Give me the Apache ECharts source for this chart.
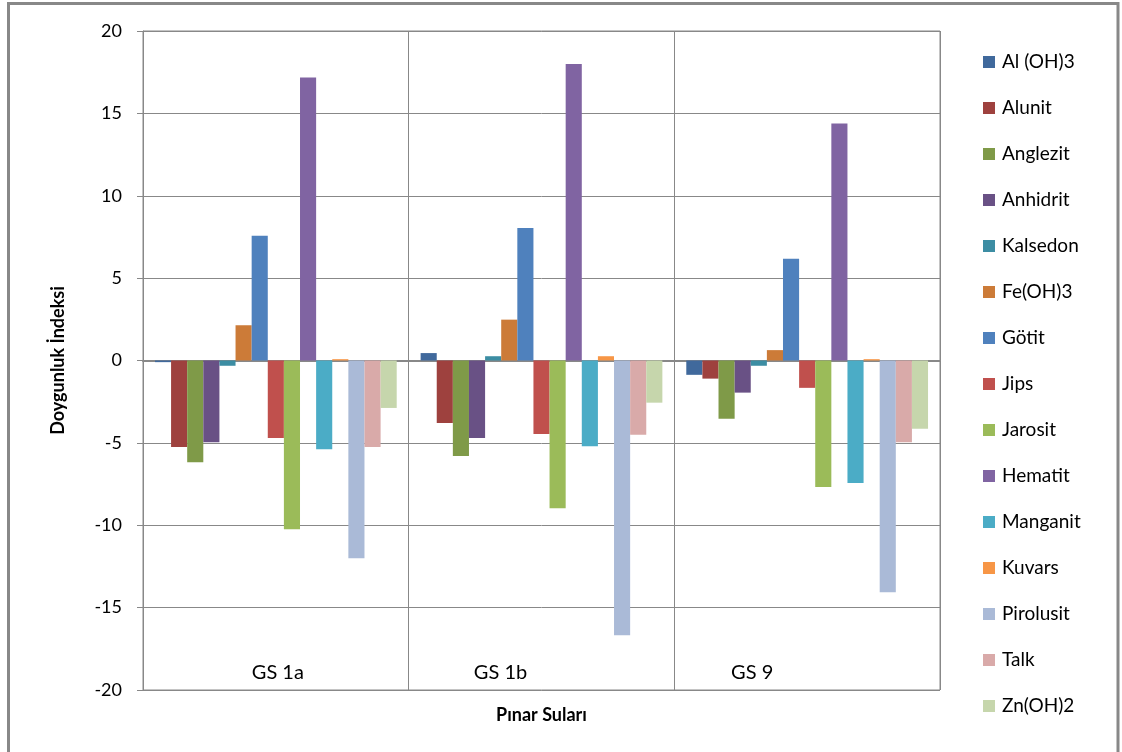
<!DOCTYPE html>
<html>
<head>
<meta charset="utf-8">
<script src="https://cdn.jsdelivr.net/npm/echarts@6/dist/echarts.min.js"></script>
<style>
html,body{margin:0;padding:0;background:#fff;}
#c{width:1122px;height:752px;}
</style>
</head>
<body>
<div id="c"></div>
<script>
const categories = ['GS 1a', 'GS 1b', 'GS 9'];
const seriesNames = ['Al (OH)3','Alunit','Anglezit','Anhidrit','Kalsedon','Fe(OH)3','Götit','Jips','Jarosit','Hematit','Manganit','Kuvars','Pirolusit','Talk','Zn(OH)2'];
const alOH3     = [-0.1, 0.45, -0.87];
const alunit    = [-5.25, -3.8, -1.1];
const anglezit  = [-6.17, -5.8, -3.54];
const anhidrit  = [-4.96, -4.7, -1.95];
const kalsedon  = [-0.32, 0.26, -0.32];
const feOH3     = [2.14, 2.48, 0.63];
const gotit     = [7.57, 8.05, 6.17];
const jips      = [-4.7, -4.46, -1.66];
const jarosit   = [-10.24, -8.97, -7.68];
const hematit   = [17.18, 18.0, 14.38];
const manganit  = [-5.38, -5.2, -7.44];
const kuvars    = [0.08, 0.26, 0.08];
const pirolusit = [-12.0, -16.68, -14.06];
const talk      = [-5.25, -4.51, -4.96];
const znOH2     = [-2.88, -2.56, -4.14];
const yTicks = [-20, -15, -10, -5, 0, 5, 10, 15, 20];

const values = [alOH3, alunit, anglezit, anhidrit, kalsedon, feOH3, gotit, jips, jarosit, hematit, manganit, kuvars, pirolusit, talk, znOH2];
const colors = ['#40699C','#9E413E','#7F9A48','#695185','#3C8DA3','#CC7B38','#4F81BD','#C0504D','#9BBB59','#8064A2','#4BACC6','#F79646','#AABAD7','#D9AAA9','#C6D6AC'];
const labelPads = [[0,0,0,4],[0,82,0,0],[0,110,0,0]];

const FONT = 'Lato, "Open Sans", sans-serif';
const chart = echarts.init(document.getElementById('c'), null, {renderer:'canvas'});
chart.setOption({
  animation: false,
  color: colors,
  textStyle: {fontFamily: FONT},
  graphic: [{
    type: 'rect', silent: true,
    shape: {x: 8.5, y: 3.5, width: 1109.5, height: 800},
    style: {fill: 'none', stroke: '#888888', lineWidth: 3}
  }],
  grid: {left: 143, right: 182, top: 31, bottom: 62, show: true, borderColor: '#888888', borderWidth: 1},
  legend: {
    orient: 'vertical', left: 978, top: 47,
    itemWidth: 12, itemHeight: 12, itemGap: 26,
    icon: 'rect',
    textStyle: {fontFamily: FONT, fontSize: 19, color: '#000', lineHeight: 20, padding: [0,0,0,2]},
    data: seriesNames
  },
  xAxis: {
    type: 'category',
    data: categories.map((c, i) => ({value: c, textStyle: {padding: labelPads[i]}})),
    name: 'Pınar Suları', nameLocation: 'middle', nameGap: 16,
    nameTextStyle: {fontFamily: FONT, fontSize: 18, fontWeight: 'bold', color: '#000'},
    axisLine: {show: true, lineStyle: {color: '#888888', width: 2}},
    axisTick: {show: false},
    splitLine: {show: true, lineStyle: {color: '#888888', width: 1}},
    axisLabel: {inside: true, margin: 7, fontSize: 20, color: '#000', fontFamily: FONT}
  },
  yAxis: {
    type: 'value', min: yTicks[0], max: yTicks[yTicks.length - 1], interval: 5,
    name: 'Doygunluk İndeksi', nameLocation: 'middle', nameGap: 76,
    nameTextStyle: {fontFamily: FONT, fontSize: 18, fontWeight: 'bold', color: '#000'},
    axisLine: {show: true, lineStyle: {color: '#888888', width: 1}},
    axisTick: {show: true, length: 6, lineStyle: {color: '#888888'}},
    splitLine: {show: true, lineStyle: {color: '#888888', width: 1}},
    axisLabel: {fontSize: 18, color: '#000', margin: 21, fontFamily: FONT}
  },
  series: seriesNames.map((n, i) => ({
    name: n, type: 'bar', data: values[i],
    barGap: '0%', barCategoryGap: '9%'
  }))
});
</script>
</body>
</html>
